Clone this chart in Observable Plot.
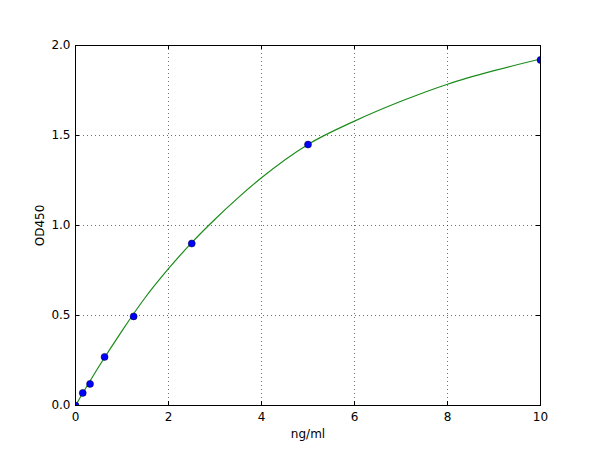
<!DOCTYPE html>
<html>
<head>
<meta charset="utf-8">
<script src="https://cdn.jsdelivr.net/npm/d3@7"></script>
<script src="https://cdn.jsdelivr.net/npm/@observablehq/plot@0.6"></script>
<style>
  html, body { margin: 0; padding: 0; background: #fff; }
  #chart svg { display: block; }
</style>
</head>
<body>
<div id="chart"></div>
<script>
// Measured standards
const conc = [0, 0.156, 0.3125, 0.625, 1.25, 2.5, 5, 10];
const od = [0.0, 0.07, 0.12, 0.27, 0.495, 0.9, 1.45, 1.92];

// Fitted curve
const curveX = [0, 0.5, 1, 1.5, 2, 2.5, 3, 3.5, 4, 5, 6, 7, 8, 9, 10];
const curveY = [0.0, 0.215, 0.415, 0.60, 0.76, 0.905, 1.035, 1.155, 1.265, 1.45, 1.58, 1.69, 1.785, 1.86, 1.925];

const xTicks = [0, 2, 4, 6, 8, 10];
const yTicks = [0.0, 0.5, 1.0, 1.5, 2.0];

const points = conc.map((x, i) => ({x, y: od[i]}));
const curve = curveX.map((x, i) => ({x, y: curveY[i]}));

const W = 600, H = 450, mL = 75, mR = 60, mT = 45, mB = 45;
const innerH = H - mT - mB, innerW = W - mL - mR;
const tickLen = 4;

const chart = Plot.plot({
  width: W,
  height: H,
  marginLeft: mL,
  marginRight: mR,
  marginTop: mT,
  marginBottom: mB,
  style: {fontFamily: "DejaVu Sans", fontSize: "12px", color: "#000", background: "#fff"},
  x: {domain: [0, 10]},
  y: {domain: [0, 2]},
  marks: [
    Plot.gridX(xTicks, {stroke: "#000", strokeOpacity: 0.7, strokeDasharray: "1,3", strokeWidth: 0.8}),
    Plot.gridY(yTicks, {stroke: "#000", strokeOpacity: 0.7, strokeDasharray: "1,3", strokeWidth: 0.8}),
    Plot.axisX(xTicks, {tickSize: 0, tickPadding: 7, tickFormat: d => String(d), fontSize: 12,
      label: "ng/ml", labelAnchor: "center", labelArrow: "none", labelOffset: 32}),
    Plot.axisY(yTicks, {tickSize: 0, tickPadding: 5, tickFormat: d => d.toFixed(1), fontSize: 12,
      label: "OD450", labelAnchor: "center", labelArrow: "none", labelOffset: 40}),
    // inward ticks on all four sides
    Plot.tickX(xTicks, {x: d => d, insetTop: innerH - tickLen, stroke: "#000"}),
    Plot.tickX(xTicks, {x: d => d, insetBottom: innerH - tickLen, stroke: "#000"}),
    Plot.tickY(yTicks, {y: d => d, insetRight: innerW - tickLen, stroke: "#000"}),
    Plot.tickY(yTicks, {y: d => d, insetLeft: innerW - tickLen, stroke: "#000"}),
    Plot.line(curve, {x: "x", y: "y", stroke: "#1a8c1a", strokeWidth: 1.2, curve: "monotone-x"}),
    Plot.dot(points, {x: "x", y: "y", r: 3.5, fill: "#0000ff", stroke: "#000033", strokeWidth: 0.5, clip: true}),
    Plot.frame({stroke: "#000", strokeWidth: 1})
  ]
});
document.getElementById("chart").appendChild(chart);
</script>
</body>
</html>
